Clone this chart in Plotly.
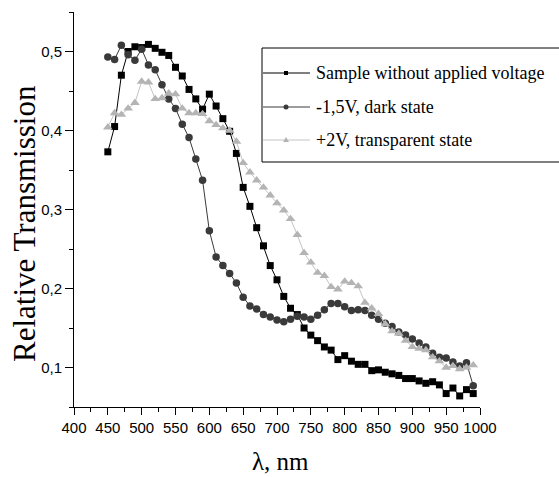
import plotly.graph_objects as go

wavelength = list(range(450, 1000, 10))

sample_no_voltage = [0.373, 0.405, 0.470, 0.500, 0.506, 0.505, 0.509, 0.504, 0.499, 0.495,
                     0.480, 0.469, 0.452, 0.440, 0.427, 0.446, 0.431, 0.415, 0.399, 0.371,
                     0.328, 0.304, 0.277, 0.254, 0.229, 0.211, 0.190, 0.175, 0.167, 0.150,
                     0.141, 0.134, 0.126, 0.122, 0.110, 0.115, 0.108, 0.104, 0.104, 0.096,
                     0.097, 0.094, 0.092, 0.090, 0.086, 0.086, 0.083, 0.080, 0.082, 0.078,
                     0.067, 0.074, 0.064, 0.072, 0.067]

dark_state = [0.493, 0.490, 0.508, 0.496, 0.489, 0.503, 0.483, 0.477, 0.458, 0.440,
              0.428, 0.408, 0.391, 0.364, 0.337, 0.273, 0.240, 0.229, 0.219, 0.207,
              0.189, 0.178, 0.174, 0.167, 0.164, 0.160, 0.158, 0.161, 0.165, 0.164,
              0.161, 0.166, 0.173, 0.181, 0.181, 0.177, 0.172, 0.173, 0.172, 0.166,
              0.161, 0.156, 0.152, 0.145, 0.141, 0.136, 0.131, 0.126, 0.118, 0.113,
              0.112, 0.107, 0.102, 0.106, 0.077]

transparent_state = [0.404, 0.422, 0.420, 0.428, 0.435, 0.462, 0.461, 0.440, 0.441, 0.447,
                     0.446, 0.428, 0.422, 0.422, 0.421, 0.412, 0.407, 0.403, 0.400, 0.386,
                     0.359, 0.347, 0.337, 0.328, 0.318, 0.308, 0.299, 0.288, 0.268, 0.245,
                     0.233, 0.220, 0.216, 0.202, 0.199, 0.209, 0.207, 0.203, 0.182, 0.175,
                     0.168, 0.155, 0.146, 0.143, 0.134, 0.126, 0.124, 0.122, 0.113, 0.108,
                     0.100, 0.102, 0.098, 0.100, 0.103]

series_names = ["Sample without applied voltage", "-1,5V, dark state", "+2V, transparent state"]
x_ticks = list(range(400, 1001, 50))
y_ticks = [0.1, 0.2, 0.3, 0.4, 0.5]
y_tick_labels = ["0,1", "0,2", "0,3", "0,4", "0,5"]

W, H = 559, 477
L, R, T, B = 74, 79, 12, 70
PW, PH = W - L - R, H - T - B


def px(xp):
    return (xp - L) / PW


def py(yp):
    return 1 - (yp - T) / PH


styles = [
    dict(color="#000000", line="#000000", symbol="square", size=7),
    dict(color="#3a3a3a", line="#3a3a3a", symbol="circle", size=7.5),
    dict(color="#b4b4b4", line="#c4c4c4", symbol="triangle-up", size=8.5),
]
series = [sample_no_voltage, dark_state, transparent_state]

fig = go.Figure()
for name, ys, st in zip(series_names, series, styles):
    fig.add_trace(go.Scatter(
        x=wavelength, y=ys, name=name, mode="lines+markers",
        line=dict(color=st["line"], width=1),
        marker=dict(symbol=st["symbol"], size=st["size"], color=st["color"], line=dict(width=0)),
        showlegend=False, cliponaxis=False,
    ))

tick_font = dict(family="Liberation Sans Narrow, Arial Narrow, Liberation Sans, Arial", size=15, color="#000")
serif = "Liberation Serif, Times New Roman, serif"

fig.update_layout(
    width=W, height=H, autosize=False,
    margin=dict(l=L, r=R, t=T, b=B, pad=0),
    paper_bgcolor="white", plot_bgcolor="white",
    xaxis=dict(range=[400, 1000], tickvals=x_ticks, ticks="outside", ticklen=7, tickwidth=1,
               tickcolor="#000", showline=True, linecolor="#000", linewidth=1, showgrid=False,
               zeroline=False, tickfont=tick_font,
               minor=dict(dtick=25, tick0=400, ticks="outside", ticklen=4, tickcolor="#000", tickwidth=1)),
    yaxis=dict(range=[0.05, 0.55], tickvals=y_ticks, ticktext=y_tick_labels, ticks="outside",
               ticklen=8, tickwidth=1, tickcolor="#000", showline=True, linecolor="#000", linewidth=1,
               showgrid=False, zeroline=False, tickfont=tick_font,
               minor=dict(dtick=0.05, tick0=0.05, ticks="outside", ticklen=4, tickcolor="#000", tickwidth=1)),
    showlegend=False,
)

# axis titles
fig.add_annotation(text="Relative Transmission", xref="paper", yref="paper",
                   x=px(24), y=py(224), xanchor="center", yanchor="middle",
                   textangle=-90, showarrow=False,
                   font=dict(family=serif, size=31, color="#000"))
fig.add_annotation(text="λ, nm", xref="paper", yref="paper",
                   x=px(280), y=py(461), xanchor="center", yanchor="middle", showarrow=False,
                   font=dict(family=serif, size=25, color="#000"))

# legend box
fig.add_shape(type="rect", xref="paper", yref="paper", x0=px(262), x1=px(600),
              y0=py(162), y1=py(48), line=dict(color="#000", width=1), fillcolor="white", layer="above")

legend_y = [73, 107, 140]
for name, st, yy in zip(series_names, styles, legend_y):
    fig.add_shape(type="line", xref="paper", yref="paper", x0=px(263), x1=px(310),
                  y0=py(yy), y1=py(yy), line=dict(color=st["line"], width=1), layer="above")
    if st["symbol"] == "square":
        fig.add_shape(type="rect", xref="paper", yref="paper", xsizemode="pixel", ysizemode="pixel",
                      xanchor=px(286), yanchor=py(yy), x0=-2, x1=2, y0=-2, y1=2,
                      fillcolor=st["color"], line=dict(width=0), layer="above")
    elif st["symbol"] == "circle":
        fig.add_shape(type="circle", xref="paper", yref="paper", xsizemode="pixel", ysizemode="pixel",
                      xanchor=px(286), yanchor=py(yy), x0=-2.5, x1=2.5, y0=-2.5, y1=2.5,
                      fillcolor=st["color"], line=dict(width=0), layer="above")
    else:
        fig.add_shape(type="path", xref="paper", yref="paper", xsizemode="pixel", ysizemode="pixel",
                      xanchor=px(286), yanchor=py(yy), path="M-3,-2L3,-2L0,3Z",
                      fillcolor=st["color"], line=dict(width=0), layer="above")
    fig.add_annotation(text=name, xref="paper", yref="paper", x=px(314), y=py(yy),
                       xanchor="left", yanchor="middle", showarrow=False,
                       font=dict(family=serif, size=18, color="#000"))

fig.write_html("out.html")
